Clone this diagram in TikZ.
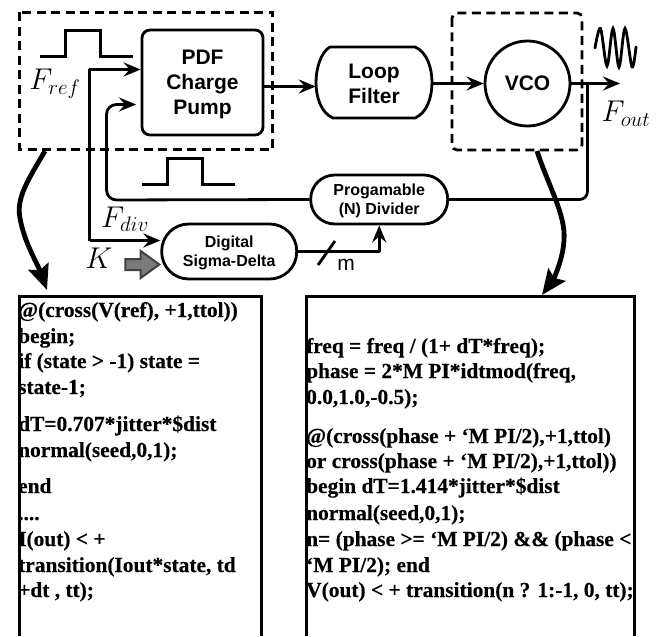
\documentclass[tikz,border=0pt]{standalone}
\usepackage{fix-cm}
\usepackage{fontspec}
\setmainfont{Liberation Serif}
\setsansfont{Liberation Sans}
\newfontfamily\codefont[FakeBold=0.35]{Liberation Serif Bold}
\usetikzlibrary{arrows.meta,shapes.arrows}
\tikzset{
  wire/.style={line width=2.8pt,line join=round},
  flow/.style={wire,-{Stealth[length=17pt,width=14pt,inset=6pt]}},
  fat/.style={line width=4.8pt,-{Stealth[length=25pt,width=21pt,inset=4pt]}},
  dashbox/.style={line width=2.8pt,dash pattern=on 9pt off 5.5pt},
  blockbox/.style={draw,line width=2.8pt,rounded corners=8pt,minimum width=121pt,minimum height=105pt,inner sep=0pt,align=center,font=\fontsize{21}{25}\selectfont\sffamily\bfseries},
  pill/.style={draw,line width=2.8pt,inner sep=0pt,align=center,font=\fontsize{16}{19}\selectfont\sffamily\bfseries},
  bigtext/.style={inner sep=0pt,align=center,font=\fontsize{21}{25}\selectfont\sffamily\bfseries},
  mathlabel/.style={inner sep=0pt,font=\fontsize{30}{34}\selectfont},
  code/.style={anchor=base west,inner sep=0pt,font=\fontsize{21.4}{25}\selectfont\codefont},
  pulse/.style={line width=2.8pt,line join=miter},
  codebox/.style={line width=3pt}
}
\begin{document}
\begin{tikzpicture}[x=1pt,y=-1pt]
\useasboundingbox (0,0) rectangle (660,636);
% dashed groups
\draw[dashbox] (19.5,12.5) rectangle (272.5,149.5);
\draw[dashbox,rounded corners=5pt] (452,13) rectangle (582,150);
% blocks
\node[blockbox] (pdf) at (202.5,82.5) {\parbox{100pt}{\centering\vspace*{4pt}PDF\\Charge\\Pump}};
\node[bigtext,minimum width=116pt,minimum height=71pt] (lf) at (374,83.5) {Loop\\Filter};
\draw[line width=2.8pt] (330,47) -- (415,47) .. controls (427,52) and (432,68) .. (432,82.5)
  .. controls (432,97) and (427,113) .. (415,118) -- (333,118)
  .. controls (321,113) and (316,97) .. (316,82.5) .. controls (316,68) and (321,52) .. (330,47) -- cycle;
\node[draw,line width=2.8pt,circle,minimum size=85pt,inner sep=0pt,font=\fontsize{21}{25}\selectfont\sffamily\bfseries] (vco) at (527.5,83.5) {VCO};
\node[pill,rounded corners=24pt,minimum width=137pt,minimum height=49pt] (div) at (379.2,199.5) {\parbox{120pt}{\centering\vspace*{2pt}Progamable\\(N) Divider}};
\node[pill,rounded corners=27pt,minimum width=135pt,minimum height=55pt] (dsd) at (229.2,251.5) {\parbox{120pt}{\centering\vspace*{3pt}Digital\\Sigma-Delta}};
% coordinates of free ends
\coordinate (fr) at (89.5,69.5);
\coordinate (fb) at (136,104.5);
\coordinate (ko) at (89.5,240.5);
\coordinate (tap) at (587.5,83.5);
\coordinate (fo) at (620,83.5);
\coordinate (fbc) at (106.5,200);
\coordinate (sl1) at (318,265);
\coordinate (sl2) at (335,241);
\coordinate (la) at (45,151);
\coordinate (lb) at (47,290);
\coordinate (ra) at (537,151);
\coordinate (rb) at (542,295);
% connectors
\draw[flow] (pdf.east |- 0,86.5) -- (lf.west |- 0,86.5);
\draw[flow] (lf.east) -- (vco.west);
\draw[flow] (vco.east) -- (fo);
\draw[wire,rounded corners=8pt] (tap) |- (div.east);
\draw[flow,rounded corners=10pt] (div.west) -- (fbc) -- (fbc |- fb) -- (fb);
\draw[flow] (ko) -- (fr) -- (pdf.west |- fr);
\draw[flow] (ko) -- (dsd.west |- ko);
\draw[flow] (dsd.east) -| (div.south);
\draw[wire] (sl1) -- (sl2);
\node[single arrow,draw=black!75,line width=2pt,fill=black!52,minimum width=26pt,minimum height=34pt,inner sep=4.5pt,single arrow head extend=8pt,single arrow tip angle=72,anchor=tip] (karrow) at (161,264.5) {};
\draw[fat] (la) .. controls (28,180) and (16,198) .. (20,218) .. controls (24,242) and (38,265) .. (lb);
\draw[fat] (ra) .. controls (548,185) and (566,215) .. (564,240) .. controls (563,260) and (553,280) .. (rb);
% pulses and sine
\draw[pulse] (40,56.5) -- (65.5,56.5) -- (65.5,30.5) -- (100.5,30.5) -- (100.5,56.5) -- (133,56.5);
\draw[pulse] (142,184.5) -- (167.5,184.5) -- (167.5,158.5) -- (202.5,158.5) -- (202.5,184.5) -- (235,184.5);
\draw[line width=2.8pt,line cap=round] plot[smooth,tension=0.55] coordinates {(595,48) (600.5,28.5) (607,66) (613,28.5) (619,67) (625,28.5) (632,67) (636,47)};
% labels
\node[mathlabel] (lfref) at (55,84) {$F_{ref}$};
\node[mathlabel] (lfdiv) at (125,219) {$F_{div}$};
\node[mathlabel] (lk) at (99,258) {$K$};
\node[mathlabel] (lfout) at (626,114) {$F_{out}$};
\node[inner sep=0pt,anchor=base,font=\fontsize{21}{25}\selectfont\sffamily] (lm) at (346,270) {m};
% code, left
\node[code] (a1) at (18,317) {@(cross(V(ref), +1,ttol))};
\node[code] (a2) at (18,343) {begin;};
\node[code] (a3) at (18,368) {if (state > -1) state =};
\node[code] (a4) at (18,394) {state-1;};
\node[code] (a5) at (18,431) {dT=0.707*jitter*\$dist};
\node[code] (a6) at (18,457) {normal(seed,0,1);};
\node[code] (a7) at (18,493) {end};
\node[code] (a8) at (18,520) {....};
\node[code] (a9) at (18,546) {I(out) < +};
\node[code] (a10) at (18,572) {transition(Iout*state, td};
\node[code] (a11) at (18,597) {+dt , tt);};
% code, right
\node[code] (b1) at (306,353) {freq = freq / (1+ dT*freq);};
\node[code] (b2) at (306,378) {phase = 2*M PI*idtmod(freq,};
\node[code] (b3) at (306,404) {0.0,1.0,-0.5);};
\node[code] (b4) at (306,443) {@(cross(phase + ‘M PI/2),+1,ttol)};
\node[code] (b5) at (306,468) {or cross(phase + ‘M PI/2),+1,ttol))};
\node[code] (b6) at (306,493) {begin dT=1.414*jitter*\$dist};
\node[code] (b7) at (306,520) {normal(seed,0,1);};
\node[code] (b8) at (306,546) {n= (phase >= ‘M PI/2) \&\& (phase <};
\node[code] (b9) at (306,572) {‘M PI/2); end};
\node[code] (b10) at (306,597) {V(out) < + transition(n ? 1:-1, 0, tt);};
% code boxes, open at the bottom of the picture
\draw[codebox] (19,636) -- (19,296) -- (261,296) -- (261,636);
\draw[codebox] (306,636) -- (306,296) -- (634,296) -- (634,636);
\end{tikzpicture}
\end{document}
